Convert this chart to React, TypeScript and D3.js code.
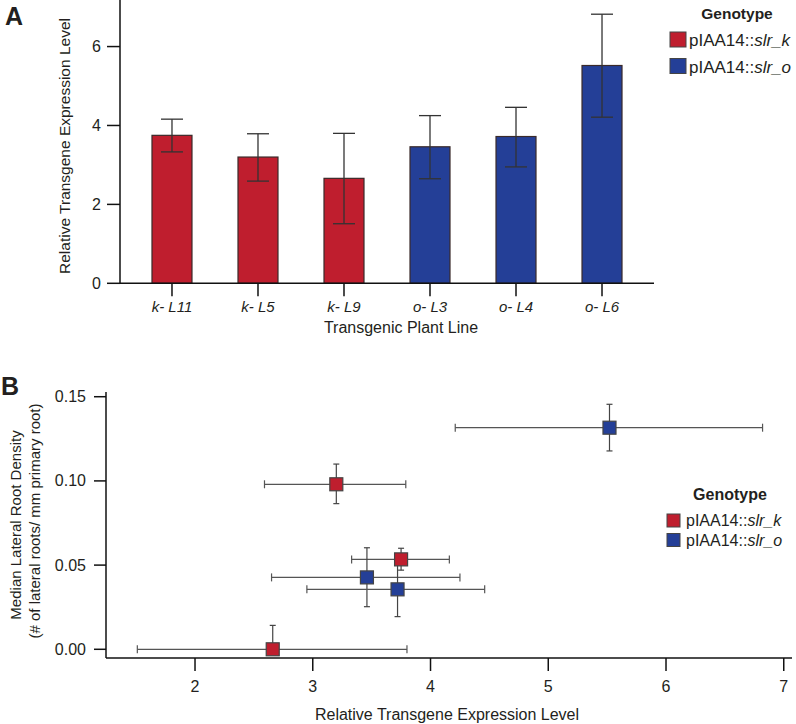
import React from "react";
import * as d3 from "d3";

const lines = ["k- L11", "k- L5", "k- L9", "o- L3", "o- L4", "o- L6"];
const genotype = ["k", "k", "k", "o", "o", "o"];
const exprMean = [3.75, 3.2, 2.66, 3.46, 3.72, 5.52];
const exprLow = [3.33, 2.59, 1.51, 2.65, 2.95, 4.21];
const exprHigh = [4.16, 3.79, 3.8, 4.25, 4.46, 6.82];
const densMean = [0.0534, 0.098, 0.0, 0.0427, 0.0356, 0.1316];
const densLow = [0.047, 0.0865, 0.0, 0.0253, 0.0194, 0.1178];
const densHigh = [0.06, 0.11, 0.0142, 0.0603, 0.052, 0.1455];
const yTicksA = [0, 2, 4, 6];
const xTicksB = [2, 3, 4, 5, 6, 7];
const yTicksB = [0, 0.05, 0.1, 0.15];
const legendLabels = [
  { key: "k", pre: "pIAA14::", it: "slr_k" },
  { key: "o", pre: "pIAA14::", it: "slr_o" },
];

const colors: Record<string, string> = { k: "#bf1e2e", o: "#243f97" };
const FONT = "'Liberation Sans', Arial, Helvetica, sans-serif";
const TXT = "#231f20";

export default function App() {
  // Panel A scales
  const xA = d3
    .scaleBand<string>()
    .domain(lines)
    .range([120, 654])
    .paddingInner(0.535)
    .paddingOuter(0.372);
  const yA = d3.scaleLinear().domain([0, 7.18]).range([283.3, 0]);

  // Panel B scales
  const xB = d3.scaleLinear().domain([1.244, 7.07]).range([106, 792]);
  const yB = d3.scaleLinear().domain([-0.00517, 0.1528]).range([658, 392]);

  const bw = xA.bandwidth();
  const sq = 13;

  return (
    <svg
      width={796}
      height={724}
      style={{ position: "absolute", left: 0, top: 0, background: "#fff" }}
      fontFamily={FONT}
    >
      {/* Panel labels */}
      <text x={5} y={25} fontSize={25} fontWeight="bold" fill={TXT}>A</text>
      <text x={1} y={395} fontSize={25} fontWeight="bold" fill={TXT}>B</text>

      {/* ===== Panel A ===== */}
      {lines.map((l, i) => {
        const x0 = xA(l)!;
        const cx = x0 + bw / 2;
        return (
          <g key={l}>
            <rect
              x={x0}
              y={yA(exprMean[i])}
              width={bw}
              height={yA(0) - yA(exprMean[i])}
              fill={colors[genotype[i]]}
              stroke="#3a2a2a"
              strokeWidth={1.2}
            />
            <line x1={cx} x2={cx} y1={yA(exprHigh[i])} y2={yA(exprLow[i])} stroke="#333" strokeWidth={1.3} />
            <line x1={cx - 11} x2={cx + 11} y1={yA(exprHigh[i])} y2={yA(exprHigh[i])} stroke="#333" strokeWidth={1.3} />
            <line x1={cx - 11} x2={cx + 11} y1={yA(exprLow[i])} y2={yA(exprLow[i])} stroke="#333" strokeWidth={1.3} />
            <line x1={cx} x2={cx} y1={yA(0)} y2={yA(0) + 13} stroke="#111" strokeWidth={1.5} />
            <text x={cx} y={312} fontSize={15} fontStyle="italic" textAnchor="middle" fill={TXT}>{l}</text>
          </g>
        );
      })}
      <line x1={120} x2={120} y1={0} y2={yA(0)} stroke="#111" strokeWidth={1.5} />
      <line x1={120} x2={654} y1={yA(0)} y2={yA(0)} stroke="#111" strokeWidth={1.5} />
      {yTicksA.map((t) => (
        <g key={t}>
          <line x1={107} x2={120} y1={yA(t)} y2={yA(t)} stroke="#111" strokeWidth={1.5} />
          <text x={101} y={yA(t) + 5.5} fontSize={16} textAnchor="end" fill={TXT}>{t}</text>
        </g>
      ))}
      <text x={401} y={333} fontSize={16} textAnchor="middle" fill={TXT}>Transgenic Plant Line</text>
      <text transform={`translate(70,146) rotate(-90)`} fontSize={15.5} textAnchor="middle" fill={TXT}>
        Relative Transgene Expression Level
      </text>

      {/* Legend A */}
      <text x={737} y={19} fontSize={15.5} fontWeight="bold" textAnchor="middle" fill={TXT}>Genotype</text>
      {legendLabels.map((g, i) => (
        <g key={g.key}>
          <rect x={670} y={32 + i * 26.5} width={16} height={15} fill={colors[g.key]} stroke="#444" strokeWidth={1} />
          <text x={689} y={46 + i * 26.5} fontSize={17} fill={TXT}>
            {g.pre}
            <tspan fontStyle="italic">{g.it}</tspan>
          </text>
        </g>
      ))}

      {/* ===== Panel B ===== */}
      <line x1={106} x2={106} y1={392} y2={658} stroke="#111" strokeWidth={1.5} />
      <line x1={106} x2={792} y1={658} y2={658} stroke="#111" strokeWidth={1.5} />
      {xTicksB.map((t) => (
        <g key={t}>
          <line x1={xB(t)} x2={xB(t)} y1={658} y2={671} stroke="#111" strokeWidth={1.5} />
          <text x={xB(t)} y={692} fontSize={16} textAnchor="middle" fill={TXT}>{t}</text>
        </g>
      ))}
      {yTicksB.map((t) => (
        <g key={t}>
          <line x1={94} x2={106} y1={yB(t)} y2={yB(t)} stroke="#111" strokeWidth={1.5} />
          <text x={86} y={yB(t) + 5.5} fontSize={16} textAnchor="end" fill={TXT}>{t.toFixed(2)}</text>
        </g>
      ))}
      <text x={447} y={720} fontSize={16} textAnchor="middle" fill={TXT}>Relative Transgene Expression Level</text>
      <text transform={`translate(21,525) rotate(-90)`} fontSize={15} textAnchor="middle" fill={TXT}>
        Median Lateral Root Density
      </text>
      <text transform={`translate(40,521) rotate(-90)`} fontSize={15} textAnchor="middle" fill={TXT}>
        (# of lateral roots/ mm primary root)
      </text>

      {lines.map((l, i) => {
        const cx = xB(exprMean[i]);
        const cy = yB(densMean[i]);
        const xl = xB(exprLow[i]);
        const xh = xB(exprHigh[i]);
        const yl = yB(densLow[i]);
        const yh = yB(densHigh[i]);
        return (
          <g key={"b" + l}>
            <line x1={xl} x2={xh} y1={cy} y2={cy} stroke="#555" strokeWidth={1.2} />
            <line x1={xl} x2={xl} y1={cy - 4} y2={cy + 4} stroke="#555" strokeWidth={1.2} />
            <line x1={xh} x2={xh} y1={cy - 4} y2={cy + 4} stroke="#555" strokeWidth={1.2} />
            <line x1={cx} x2={cx} y1={yh} y2={yl} stroke="#444" strokeWidth={1.2} />
            <line x1={cx - 3} x2={cx + 3} y1={yh} y2={yh} stroke="#444" strokeWidth={1.2} />
            {densLow[i] < densMean[i] && (
              <line x1={cx - 3} x2={cx + 3} y1={yl} y2={yl} stroke="#444" strokeWidth={1.2} />
            )}
          </g>
        );
      })}
      {lines.map((l, i) => (
        <rect
          key={"s" + l}
          x={xB(exprMean[i]) - sq / 2}
          y={yB(densMean[i]) - sq / 2}
          width={sq}
          height={sq}
          fill={colors[genotype[i]]}
          stroke="#444"
          strokeWidth={1.2}
        />
      ))}

      {/* Legend B */}
      <text x={730} y={500} fontSize={16} fontWeight="bold" textAnchor="middle" fill={TXT}>Genotype</text>
      {legendLabels.map((g, i) => (
        <g key={"lb" + g.key}>
          <rect x={667} y={514 + i * 19.5} width={13} height={13} fill={colors[g.key]} stroke="#444" strokeWidth={1} />
          <text x={686} y={526 + i * 19.5} fontSize={16} fill={TXT}>
            {g.pre}
            <tspan fontStyle="italic">{g.it}</tspan>
          </text>
        </g>
      ))}
    </svg>
  );
}
